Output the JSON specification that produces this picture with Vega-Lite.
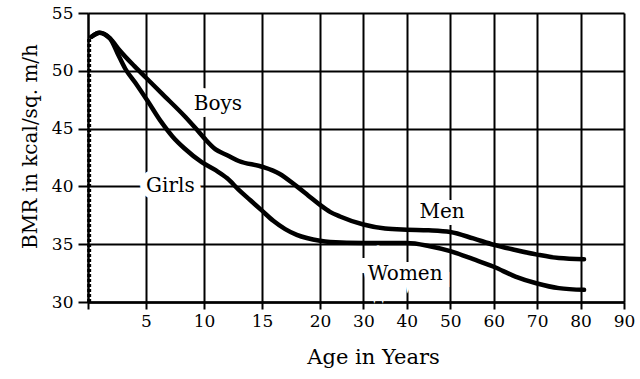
{
  "$schema": "https://vega.github.io/schema/vega-lite/v6.json",
  "width": 536,
  "height": 289,
  "autosize": {"type": "none"},
  "padding": {"left": 88, "top": 13, "right": 16, "bottom": 77},
  "background": "white",
  "config": {"view": {"stroke": null}, "font": "DejaVu Serif"},
  "datasets": {
    "curves": [
      {"series": "Male", "age": 0.3, "bmr": 52.95},
      {"series": "Male", "age": 1.0, "bmr": 53.3},
      {"series": "Male", "age": 1.9, "bmr": 52.8},
      {"series": "Male", "age": 2.7, "bmr": 51.8},
      {"series": "Male", "age": 4.0, "bmr": 50.4},
      {"series": "Male", "age": 5.0, "bmr": 49.4},
      {"series": "Male", "age": 6.4, "bmr": 48.0},
      {"series": "Male", "age": 8.4, "bmr": 46.0},
      {"series": "Male", "age": 9.3, "bmr": 45.0},
      {"series": "Male", "age": 10.0, "bmr": 44.2},
      {"series": "Male", "age": 11.0, "bmr": 43.2},
      {"series": "Male", "age": 12.0, "bmr": 42.7},
      {"series": "Male", "age": 13.0, "bmr": 42.2},
      {"series": "Male", "age": 15.0, "bmr": 41.7},
      {"series": "Male", "age": 16.5, "bmr": 41.1},
      {"series": "Male", "age": 18.0, "bmr": 40.0},
      {"series": "Male", "age": 19.0, "bmr": 39.2},
      {"series": "Male", "age": 20.0, "bmr": 38.4},
      {"series": "Male", "age": 22.3, "bmr": 37.8},
      {"series": "Male", "age": 24.6, "bmr": 37.4},
      {"series": "Male", "age": 30, "bmr": 36.7},
      {"series": "Male", "age": 35, "bmr": 36.35},
      {"series": "Male", "age": 40, "bmr": 36.25},
      {"series": "Male", "age": 45, "bmr": 36.2},
      {"series": "Male", "age": 50, "bmr": 36.05},
      {"series": "Male", "age": 55.3, "bmr": 35.5},
      {"series": "Male", "age": 60, "bmr": 34.95},
      {"series": "Male", "age": 65, "bmr": 34.5},
      {"series": "Male", "age": 70, "bmr": 34.1},
      {"series": "Male", "age": 75, "bmr": 33.8},
      {"series": "Male", "age": 80.8, "bmr": 33.7},
      {"series": "Female", "age": 0.3, "bmr": 52.95},
      {"series": "Female", "age": 1.0, "bmr": 53.3},
      {"series": "Female", "age": 1.9, "bmr": 52.8},
      {"series": "Female", "age": 2.55, "bmr": 51.5},
      {"series": "Female", "age": 3.2, "bmr": 50.2},
      {"series": "Female", "age": 4.2, "bmr": 48.8},
      {"series": "Female", "age": 5.2, "bmr": 47.3},
      {"series": "Female", "age": 6.3, "bmr": 45.6},
      {"series": "Female", "age": 7.3, "bmr": 44.3},
      {"series": "Female", "age": 8.3, "bmr": 43.3},
      {"series": "Female", "age": 9.8, "bmr": 42.1},
      {"series": "Female", "age": 11.0, "bmr": 41.4},
      {"series": "Female", "age": 12.0, "bmr": 40.7},
      {"series": "Female", "age": 13.0, "bmr": 39.7},
      {"series": "Female", "age": 14.0, "bmr": 38.8},
      {"series": "Female", "age": 15.0, "bmr": 37.9},
      {"series": "Female", "age": 16.0, "bmr": 37.0},
      {"series": "Female", "age": 17.0, "bmr": 36.3},
      {"series": "Female", "age": 18.0, "bmr": 35.8},
      {"series": "Female", "age": 20.0, "bmr": 35.3},
      {"series": "Female", "age": 22.3, "bmr": 35.2},
      {"series": "Female", "age": 30, "bmr": 35.1},
      {"series": "Female", "age": 40, "bmr": 35.1},
      {"series": "Female", "age": 45, "bmr": 34.85},
      {"series": "Female", "age": 50, "bmr": 34.4},
      {"series": "Female", "age": 55.3, "bmr": 33.7},
      {"series": "Female", "age": 60, "bmr": 33.05},
      {"series": "Female", "age": 65, "bmr": 32.2},
      {"series": "Female", "age": 70, "bmr": 31.6},
      {"series": "Female", "age": 75, "bmr": 31.2},
      {"series": "Female", "age": 80.8, "bmr": 31.05}
    ],
    "stub": [{"age": 0.1, "low": 30, "high": 52.9}],
    "labels": [
      {"label": "Boys", "age": 11.2, "bmr": 47.1},
      {"label": "Girls", "age": 7.1, "bmr": 40.0},
      {"label": "Men", "age": 48.1, "bmr": 37.8},
      {"label": "Women", "age": 39.6, "bmr": 32.4}
    ]
  },
  "layer": [
    {
      "data": {"name": "labels"},
      "mark": {"type": "text", "font": "DejaVu Serif", "fontSize": 20, "stroke": "white", "strokeWidth": 14, "strokeJoin": "miter", "fill": "white", "baseline": "middle", "align": "center"},
      "encoding": {
        "x": {
          "field": "age", "type": "quantitative",
          "scale": {"domain": [0, 20, 90], "range": [0, 232, 536], "nice": false},
          "axis": {
            "values": [0, 5, 10, 15, 20, 30, 40, 50, 60, 70, 80, 90],
            "grid": true, "gridColor": "black", "gridWidth": 2, "gridOpacity": 1,
            "domainColor": "black", "domainWidth": 2.5,
            "tickColor": "black", "tickWidth": 2, "tickSize": 7,
            "labelExpr": "datum.value == 0 ? '' : datum.label",
            "labelFont": "DejaVu Serif", "labelFontSize": 17, "labelColor": "black", "labelPadding": 4, "labelFlush": false,
            "title": "Age in Years", "titleFont": "DejaVu Serif", "titleFontSize": 21, "titleFontWeight": "normal", "titleColor": "black", "titlePadding": 17, "titleX": 285
          }
        },
        "y": {
          "field": "bmr", "type": "quantitative",
          "scale": {"domain": [30, 55], "nice": false, "zero": false},
          "axis": {
            "values": [30, 35, 40, 45, 50, 55],
            "grid": true, "gridColor": "black", "gridWidth": 2, "gridOpacity": 1,
            "domainColor": "black", "domainWidth": 2,
            "tickColor": "black", "tickWidth": 2, "tickSize": 10,
            "labelFont": "DejaVu Serif", "labelFontSize": 17, "labelColor": "black", "labelPadding": 5,
            "title": "BMR in kcal/sq. m/h", "titleFont": "DejaVu Serif", "titleFontSize": 20, "titleFontWeight": "normal", "titleColor": "black", "titlePadding": 11, "titleY": 133
          }
        },
        "text": {"field": "label"}
      }
    },
    {
      "data": {"name": "labels"},
      "mark": {"type": "text", "font": "DejaVu Serif", "fontSize": 20, "fill": "black", "baseline": "middle", "align": "center"},
      "encoding": {
        "x": {"field": "age", "type": "quantitative"},
        "y": {"field": "bmr", "type": "quantitative"},
        "text": {"field": "label"}
      }
    },
    {
      "data": {"name": "curves"},
      "mark": {"type": "line", "interpolate": "monotone", "strokeWidth": 4.5, "color": "black", "strokeCap": "round"},
      "encoding": {
        "x": {"field": "age", "type": "quantitative"},
        "y": {"field": "bmr", "type": "quantitative"},
        "detail": {"field": "series"}
      }
    },
    {
      "data": {"name": "stub"},
      "mark": {"type": "rule", "strokeDash": [3, 2], "strokeWidth": 4, "color": "black"},
      "encoding": {
        "x": {"field": "age", "type": "quantitative"},
        "y": {"field": "low", "type": "quantitative"},
        "y2": {"field": "high"}
      }
    }
  ]
}
